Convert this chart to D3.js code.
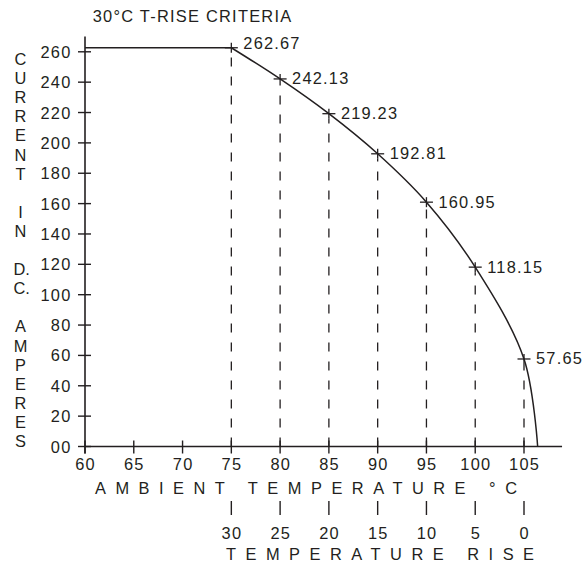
<!DOCTYPE html>
<html>
<head>
<meta charset="utf-8">
<script src="https://cdn.jsdelivr.net/npm/d3@7"></script>
<style>
  html, body { margin: 0; padding: 0; background: #fff; }
  svg text { font-family: "Liberation Sans", Arial, Helvetica, sans-serif; fill: #231f20; }
</style>
</head>
<body>
<svg id="chart" width="582" height="563"></svg>
<script>
// ---- data ----
const titleText = "30°C T-RISE CRITERIA";
const ambientTemps = [75, 80, 85, 90, 95, 100, 105];
const currents = [262.67, 242.13, 219.23, 192.81, 160.95, 118.15, 57.65];
const currentLabels = ["262.67", "242.13", "219.23", "192.81", "160.95", "118.15", "57.65"];
const plateauStart = 60;          // flat section begins at 60 °C
const curveEndTemp = 106.4;       // curve meets zero current
const xTicks = [60, 65, 70, 75, 80, 85, 90, 95, 100, 105];
const yTicks = [0, 20, 40, 60, 80, 100, 120, 140, 160, 180, 200, 220, 240, 260];
const yTickLabels = ["00", "20", "40", "60", "80", "100", "120", "140", "160", "180", "200", "220", "240", "260"];
const riseTemps = [75, 80, 85, 90, 95, 100, 105];
const riseLabels = ["30", "25", "20", "15", "10", "5", "0"];
const yLabelTokens = ["C","U","R","R","E","N","T","","I","N","","D.","C.","","A","M","P","E","R","E","S"];
const xTitle = "AMBIENT TEMPERATURE °C";
const riseTitle = "TEMPERATURE RISE";

// ---- layout ----
const ink = "#231f20";
const fs = 16.4;
const svg = d3.select("#chart");
const x = d3.scaleLinear().domain([60, 105]).range([85, 524]);
const y = d3.scaleLinear().domain([0, 260]).range([446.5, 51.8]);
const y0 = y(0);

// axes lines
svg.append("line").attr("x1", x(60)).attr("x2", x(108.9)).attr("y1", y0).attr("y2", y0)
  .attr("stroke", ink).attr("stroke-width", 1.6);
svg.append("line").attr("x1", x(60)).attr("x2", x(60)).attr("y1", y0 + 7).attr("y2", y(270))
  .attr("stroke", ink).attr("stroke-width", 1.6);

// y ticks
svg.selectAll(".ytick").data(yTicks).join("line")
  .attr("x1", x(60) - 7).attr("x2", x(60) + 6)
  .attr("y1", d => y(d)).attr("y2", d => y(d))
  .attr("stroke", ink).attr("stroke-width", 1.4);
svg.selectAll(".ylab").data(yTicks).join("text")
  .attr("x", 71.5).attr("y", d => y(d) + 6)
  .attr("text-anchor", "end").attr("font-size", fs).attr("letter-spacing", 1.2)
  .text((d, i) => yTickLabels[i]);

// x ticks
svg.selectAll(".xtick").data(xTicks).join("line")
  .attr("x1", d => x(d)).attr("x2", d => x(d))
  .attr("y1", y0 - 6).attr("y2", y0 + 7)
  .attr("stroke", ink).attr("stroke-width", 1.4);
svg.selectAll(".xlab").data(xTicks).join("text")
  .attr("x", d => x(d) + 0.6).attr("y", 470)
  .attr("text-anchor", "middle").attr("font-size", fs).attr("letter-spacing", 1.2)
  .text(d => d);

// x title
svg.append("text").attr("x", 95).attr("y", 494).attr("font-size", fs)
  .attr("textLength", 422).attr("lengthAdjust", "spacing").text(xTitle);

// temperature rise scale
svg.selectAll(".rtick").data(riseTemps).join("line")
  .attr("x1", d => x(d)).attr("x2", d => x(d))
  .attr("y1", 501).attr("y2", 515)
  .attr("stroke", ink).attr("stroke-width", 1.4);
svg.selectAll(".rlab").data(riseTemps).join("text")
  .attr("x", d => x(d) + 0.6).attr("y", 538.5)
  .attr("text-anchor", "middle").attr("font-size", fs).attr("letter-spacing", 1.2)
  .text((d, i) => riseLabels[i]);
svg.append("text").attr("x", 226).attr("y", 560).attr("font-size", fs)
  .attr("textLength", 308).attr("lengthAdjust", "spacing").text(riseTitle);

// y label (stacked letters)
svg.selectAll(".ylet").data(yLabelTokens).join("text")
  .attr("x", d => d.endsWith(".") ? 13.5 : 20.5)
  .attr("y", (d, i) => 59 + i * 19.1 + 6)
  .attr("text-anchor", d => d.endsWith(".") ? "start" : "middle")
  .attr("font-size", fs)
  .text(d => d);

// title
svg.append("text").attr("x", 92.7).attr("y", 21.7).attr("font-size", fs)
  .attr("letter-spacing", 1.25).text(titleText);

// dashed verticals
const pts = ambientTemps.map((t, i) => ({ t, c: currents[i], label: currentLabels[i] }));
svg.selectAll(".drop").data(pts).join("line")
  .attr("x1", d => x(d.t)).attr("x2", d => x(d.t))
  .attr("y1", y0).attr("y2", d => y(d.c) + 5)
  .attr("stroke", ink).attr("stroke-width", 1.3)
  .attr("stroke-dasharray", "9,10");

// plateau + curve
svg.append("line").attr("x1", x(plateauStart)).attr("x2", x(ambientTemps[0]))
  .attr("y1", y(currents[0])).attr("y2", y(currents[0]))
  .attr("stroke", ink).attr("stroke-width", 1.5);
const curvePts = pts.map(d => [d.t, d.c]).concat([[curveEndTemp, 0]]);
const line = d3.line().x(d => x(d[0])).y(d => y(d[1])).curve(d3.curveCatmullRom.alpha(0.5));
svg.append("path").attr("d", line(curvePts)).attr("fill", "none")
  .attr("stroke", ink).attr("stroke-width", 1.5);

// cross markers
svg.selectAll(".mh").data(pts).join("line")
  .attr("x1", d => x(d.t) - 6.5).attr("x2", d => x(d.t) + 6.5)
  .attr("y1", d => y(d.c)).attr("y2", d => y(d.c))
  .attr("stroke", ink).attr("stroke-width", 1.3);
svg.selectAll(".mv").data(pts).join("line")
  .attr("x1", d => x(d.t)).attr("x2", d => x(d.t))
  .attr("y1", d => y(d.c) - 5).attr("y2", d => y(d.c) + 5)
  .attr("stroke", ink).attr("stroke-width", 1.3);

// value labels
svg.selectAll(".vlab").data(pts).join("text")
  .attr("x", d => x(d.t) + 12).attr("y", (d, i) => y(d.c) + (i === 0 ? 0.8 : 5.5))
  .attr("font-size", fs).attr("letter-spacing", 1.2)
  .text(d => d.label);
</script>
</body>
</html>
